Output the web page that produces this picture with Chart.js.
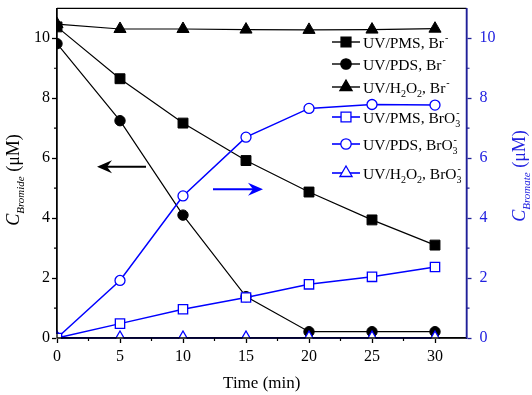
<!DOCTYPE html>
<html>
<head>
<meta charset="utf-8">
<script src="https://cdn.jsdelivr.net/npm/chart.js@4.4.0/dist/chart.umd.min.js"></script>
<style>
  html, body { margin: 0; padding: 0; background: #fff; }
</style>
</head>
<body>
<canvas id="grafica" width="532" height="395"></canvas>
<script>
// Datos
const tiempos = [0, 5, 10, 15, 20, 25, 30];
const pmsBr = [10.38, 8.65, 7.17, 5.92, 4.87, 3.94, 3.10];
const pdsBr = [9.82, 7.25, 4.10, 1.38, 0.21, 0.21, 0.21];
const h2o2Br = [10.47, 10.31, 10.31, 10.29, 10.28, 10.29, 10.32];
const pmsBrO3 = [0, 0.48, 0.96, 1.35, 1.79, 2.04, 2.37];
const pdsBrO3 = [0, 1.92, 4.74, 6.70, 7.66, 7.79, 7.77];
const h2o2BrO3 = [0, 0, 0, 0, 0, 0, 0];

const xTicks = [0, 5, 10, 15, 20, 25, 30];
const yTicks = [0, 2, 4, 6, 8, 10];
const xMinor = [2.5, 7.5, 12.5, 17.5, 22.5, 27.5];
const yMinor = [1, 3, 5, 7, 9];

const NEGRO = '#000000';
const AZUL = '#0000ff';
const AZUL_EJE = '#1f1f99';
const AZUL_TXT = '#2020e0';
const FUENTE = '"Liberation Serif", "Times New Roman", serif';

function puntos(valores) {
  return tiempos.map((t, i) => ({ x: t, y: valores[i] }));
}

function serieNegra(valores, estilo, radio) {
  return {
    data: puntos(valores),
    yAxisID: 'y',
    borderColor: NEGRO,
    borderWidth: 1.2,
    pointStyle: estilo,
    pointRadius: radio,
    pointBackgroundColor: NEGRO,
    pointBorderColor: NEGRO,
    pointBorderWidth: 1,
    tension: 0,
    clip: 1,
    order: 2
  };
}

function serieAzul(valores, estilo, radio) {
  return {
    data: puntos(valores),
    yAxisID: 'y2',
    borderColor: AZUL,
    borderWidth: 1.5,
    pointStyle: estilo,
    pointRadius: radio,
    pointBackgroundColor: '#ffffff',
    pointBorderColor: AZUL,
    pointBorderWidth: 1.3,
    tension: 0,
    clip: 1,
    order: 1
  };
}

// Texto con subindices / superindices
function textoRico(ctx, partes, x, y, size, color) {
  let cx = x;
  ctx.fillStyle = color;
  ctx.textBaseline = 'alphabetic';
  ctx.textAlign = 'left';
  partes.forEach(p => {
    const tam = p.t === 'n' || p.t === 'i' ? size : Math.round(size * 0.62);
    ctx.font = (p.t === 'i' || p.it ? 'italic ' : '') + tam + 'px ' + FUENTE;
    if (p.t === 'n' || p.t === 'i') {
      ctx.fillText(p.s, cx, y);
      cx += ctx.measureText(p.s).width;
    } else if (p.t === 'sub') {
      ctx.fillText(p.s, cx, y + size * 0.3);
      cx += ctx.measureText(p.s).width;
    } else if (p.t === 'sup') {
      ctx.fillText(p.s, cx + 1, y - size * 0.42);
      cx += ctx.measureText(p.s).width + 1;
    } else if (p.t === 'subsup') {
      ctx.fillText(p.s[0], cx, y + size * 0.3);
      ctx.fillText(p.s[1], cx + 1, y - size * 0.42);
      cx += Math.max(ctx.measureText(p.s[0]).width, ctx.measureText(p.s[1]).width + 1);
    }
  });
  return cx - x;
}

function anchoRico(ctx, partes, size) {
  let w = 0;
  partes.forEach(p => {
    const tam = p.t === 'n' || p.t === 'i' ? size : Math.round(size * 0.62);
    ctx.font = (p.t === 'i' || p.it ? 'italic ' : '') + tam + 'px ' + FUENTE;
    w += ctx.measureText(Array.isArray(p.s) ? p.s[0] : p.s).width;
  });
  return w;
}

function marcador(ctx, estilo, relleno, color, x, y, r) {
  ctx.save();
  ctx.beginPath();
  if (estilo === 'rect') {
    const s = Math.SQRT1_2 * r;
    ctx.rect(x - s, y - s, 2 * s, 2 * s);
  } else if (estilo === 'circle') {
    ctx.arc(x, y, r, 0, Math.PI * 2);
  } else {
    ctx.moveTo(x, y - r);
    ctx.lineTo(x + 0.866 * r, y + 0.5 * r);
    ctx.lineTo(x - 0.866 * r, y + 0.5 * r);
    ctx.closePath();
  }
  ctx.fillStyle = relleno ? color : '#ffffff';
  ctx.fill();
  ctx.lineWidth = 1.3;
  ctx.strokeStyle = color;
  ctx.stroke();
  ctx.restore();
}

function flecha(ctx, x1, x2, y, color) {
  const dir = x2 > x1 ? 1 : -1;
  ctx.save();
  ctx.strokeStyle = color;
  ctx.fillStyle = color;
  ctx.lineWidth = 2;
  ctx.beginPath();
  ctx.moveTo(x1, y);
  ctx.lineTo(x2 - dir * 8, y);
  ctx.stroke();
  ctx.beginPath();
  ctx.moveTo(x2, y);
  ctx.lineTo(x2 - dir * 15, y - 6.5);
  ctx.lineTo(x2 - dir * 10, y);
  ctx.lineTo(x2 - dir * 15, y + 6.5);
  ctx.closePath();
  ctx.fill();
  ctx.restore();
}

const leyenda = [
  { e: 'rect', f: true, c: NEGRO, y: 42, p: [{ t: 'n', s: 'UV/PMS, Br' }, { t: 'sup', s: '-' }] },
  { e: 'circle', f: true, c: NEGRO, y: 64, p: [{ t: 'n', s: 'UV/PDS, Br' }, { t: 'sup', s: '-' }] },
  { e: 'triangle', f: true, c: NEGRO, y: 87, p: [{ t: 'n', s: 'UV/H' }, { t: 'sub', s: '2' }, { t: 'n', s: 'O' }, { t: 'sub', s: '2' }, { t: 'n', s: ', Br' }, { t: 'sup', s: '-' }] },
  { e: 'rect', f: false, c: AZUL, y: 117, p: [{ t: 'n', s: 'UV/PMS, BrO' }, { t: 'subsup', s: ['3', '-'] }] },
  { e: 'circle', f: false, c: AZUL, y: 144, p: [{ t: 'n', s: 'UV/PDS, BrO' }, { t: 'subsup', s: ['3', '-'] }] },
  { e: 'triangle', f: false, c: AZUL, y: 173, p: [{ t: 'n', s: 'UV/H' }, { t: 'sub', s: '2' }, { t: 'n', s: 'O' }, { t: 'sub', s: '2' }, { t: 'n', s: ', BrO' }, { t: 'subsup', s: ['3', '-'] }] }
];

const extras = {
  id: 'extras',
  afterDraw(chart) {
    const ctx = chart.ctx;
    const a = chart.chartArea;
    const sx = chart.scales.x, sy = chart.scales.y, sy2 = chart.scales.y2;
    ctx.save();
    // marco: superior, inferior e izquierdo encima de los datos
    ctx.strokeStyle = NEGRO;
    ctx.lineWidth = 1.3;
    ctx.beginPath();
    ctx.moveTo(a.left, a.top);
    ctx.lineTo(a.right, a.top);
    ctx.moveTo(a.left, a.top);
    ctx.lineTo(a.left, a.bottom);
    ctx.lineTo(a.right, a.bottom);
    ctx.stroke();
    ctx.strokeStyle = AZUL_EJE;
    ctx.lineWidth = 1.5;
    ctx.beginPath();
    ctx.moveTo(a.right, a.top);
    ctx.lineTo(a.right, a.bottom);
    ctx.stroke();
    // ticks menores
    ctx.strokeStyle = NEGRO;
    ctx.lineWidth = 1.2;
    ctx.beginPath();
    xMinor.forEach(v => {
      const px = sx.getPixelForValue(v);
      ctx.moveTo(px, a.bottom);
      ctx.lineTo(px, a.bottom + 3);
    });
    yMinor.forEach(v => {
      const py = sy.getPixelForValue(v);
      ctx.moveTo(a.left, py);
      ctx.lineTo(a.left - 3, py);
    });
    ctx.stroke();
    ctx.strokeStyle = AZUL_EJE;
    ctx.beginPath();
    yMinor.forEach(v => {
      const py = sy2.getPixelForValue(v);
      ctx.moveTo(a.right, py);
      ctx.lineTo(a.right + 3, py);
    });
    ctx.stroke();

    // titulos de ejes
    ctx.fillStyle = NEGRO;
    ctx.font = '17px ' + FUENTE;
    ctx.textAlign = 'center';
    ctx.textBaseline = 'alphabetic';
    ctx.fillText('Time (min)', (a.left + a.right) / 2, 388);

    const tIzq = [{ t: 'i', s: 'C' }, { t: 'sub', s: 'Bromide', it: true }, { t: 'n', s: ' (\u03bcM)' }];
    const tDer = [{ t: 'i', s: 'C' }, { t: 'sub', s: 'Bromate', it: true }, { t: 'n', s: ' (\u03bcM)' }];
    [[tIzq, 19, 180, NEGRO], [tDer, 525, 176, AZUL_TXT]].forEach(([partes, x, y, col]) => {
      const w = anchoRico(ctx, partes, 18);
      ctx.save();
      ctx.translate(x, y);
      ctx.rotate(-Math.PI / 2);
      textoRico(ctx, partes, -w / 2, 0, 18, col);
      ctx.restore();
    });

    // leyenda
    leyenda.forEach(it => {
      ctx.strokeStyle = it.c;
      ctx.lineWidth = it.f ? 1.4 : 1.6;
      ctx.beginPath();
      ctx.moveTo(332, it.y);
      ctx.lineTo(360, it.y);
      ctx.stroke();
      const r = it.e === 'circle' ? 5.2 : 7;
      marcador(ctx, it.e, it.f, it.c, 346, it.y, r);
      textoRico(ctx, it.p, 363, it.y + 5.5, 15.5, NEGRO);
    });

    // flechas
    flecha(ctx, 146, 97, 166.7, NEGRO);
    flecha(ctx, 213, 263, 189.3, AZUL);
    ctx.restore();
  }
};

const ctx = document.getElementById('grafica').getContext('2d');
const grafico = new Chart(ctx, {
  type: 'line',
  data: {
    datasets: [
      serieNegra(pmsBr, 'rect', 7),
      serieNegra(pdsBr, 'circle', 5.2),
      serieNegra(h2o2Br, 'triangle', 7),
      serieAzul(pmsBrO3, 'rect', 6.6),
      serieAzul(pdsBrO3, 'circle', 5),
      serieAzul(h2o2BrO3, 'triangle', 7)
    ]
  },
  options: {
    responsive: false,
    devicePixelRatio: 1,
    animation: false,
    layout: { padding: { top: 2, left: 0, right: 0, bottom: 0 } },
    plugins: { legend: { display: false }, tooltip: { enabled: false } },
    scales: {
      x: {
        type: 'linear',
        min: 0,
        max: 32.5,
        afterBuildTicks: s => { s.ticks = xTicks.map(v => ({ value: v })); },
        afterFit: s => { s.height = 57; s.paddingLeft = 0; s.paddingRight = 0; },
        ticks: { color: NEGRO, padding: 4, font: { family: FUENTE, size: 16 } },
        grid: { drawOnChartArea: false, tickLength: 5, tickColor: NEGRO, tickWidth: 1.3 },
        border: { color: NEGRO, width: 1.3 }
      },
      y: {
        position: 'left',
        min: 0,
        max: 11,
        afterBuildTicks: s => { s.ticks = yTicks.map(v => ({ value: v })); },
        afterFit: s => { s.width = 57; s.paddingTop = 0; s.paddingBottom = 0; },
        ticks: { color: NEGRO, padding: 2, font: { family: FUENTE, size: 16 } },
        grid: { drawOnChartArea: false, tickLength: 5, tickColor: NEGRO, tickWidth: 1.3 },
        border: { color: NEGRO, width: 1.3 }
      },
      y2: {
        position: 'right',
        min: 0,
        max: 11,
        afterBuildTicks: s => { s.ticks = yTicks.map(v => ({ value: v })); },
        afterFit: s => { s.width = 65.5; s.paddingTop = 0; s.paddingBottom = 0; },
        ticks: { color: AZUL_TXT, padding: 8, font: { family: FUENTE, size: 16 } },
        grid: { drawOnChartArea: false, tickLength: 5, tickColor: AZUL_EJE, tickWidth: 1.3 },
        border: { color: AZUL_EJE, width: 1.5 }
      }
    }
  },
  plugins: [extras]
});
</script>
</body>
</html>
